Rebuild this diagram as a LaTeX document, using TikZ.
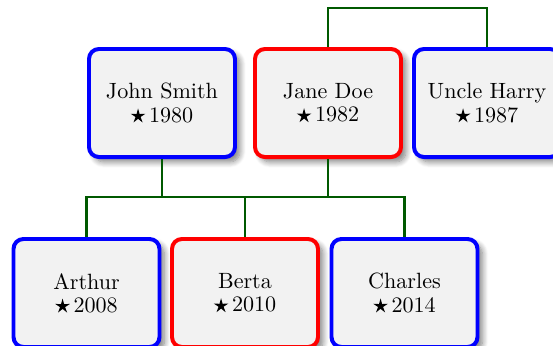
\documentclass[tikz,border=0pt]{standalone}
\usetikzlibrary{shadows.blur}

\newsavebox{\starbox}
\newcommand{\born}[1]{\usebox{\starbox}\,#1}

\begin{document}
\sbox{\starbox}{\begin{pgfpicture}
    \pgfpathmoveto{\pgfpointpolar{90}{3.5pt}}
    \pgfpathlineto{\pgfpointpolar{126}{1.2pt}}\pgfpathlineto{\pgfpointpolar{162}{3.5pt}}
    \pgfpathlineto{\pgfpointpolar{198}{1.2pt}}\pgfpathlineto{\pgfpointpolar{234}{3.5pt}}
    \pgfpathlineto{\pgfpointpolar{270}{1.2pt}}\pgfpathlineto{\pgfpointpolar{306}{3.5pt}}
    \pgfpathlineto{\pgfpointpolar{342}{1.2pt}}\pgfpathlineto{\pgfpointpolar{18}{3.5pt}}
    \pgfpathlineto{\pgfpointpolar{54}{1.2pt}}\pgfpathclose
    \pgfusepath{fill}
    \pgfsetbaseline{-2.7pt}
\end{pgfpicture}}%
\begin{tikzpicture}[
    x=0.4527pt, y=-0.4527pt,
    person/.style={rectangle, rounded corners=4.5pt, line width=1.8pt, fill=gray!10,
        minimum width=66.1pt, minimum height=48.9pt, align=center, inner sep=0pt,
        blur shadow={shadow xshift=2.2pt, shadow yshift=-2.2pt, shadow blur steps=8,
            shadow blur radius=2.6pt, shadow opacity=50}},
    male/.style={person, draw=blue},
    female/.style={person, draw=red},
    edge/.style={draw=green!35!black, line width=1.2pt}
]
\useasboundingbox (0,0) rectangle (553,346);

% Parents generation
\node[male]   (john)  at (162,103) {John Smith\\[-1.5pt]\born{1980}};
\node[female] (jane)  at (328,103) {Jane Doe\\[-1.5pt]\born{1982}};
\node[male]   (harry) at (487,103) {Uncle Harry\\[-1.5pt]\born{1987}};

% Children
\node[male]   (arthur)  at (86.5,293) {Arthur\\[-1.5pt]\born{2008}};
\node[female] (berta)   at (245,293)  {Berta\\[-1.5pt]\born{2010}};
\node[male]   (charles) at (404.5,293) {Charles\\[-1.5pt]\born{2014}};

\coordinate (top) at (400,8);
\coordinate (fam) at (245,197);

% Connections
\draw[edge] (jane.north) |- (top) -| (harry.north);
\draw[edge] (arthur.north) |- (fam) -| (charles.north);
\foreach \p in {john, jane} {
    \draw[edge] (\p.south) -- (\p.south |- fam);
}
\draw[edge] (berta.north) -- (fam);
\end{tikzpicture}
\end{document}
